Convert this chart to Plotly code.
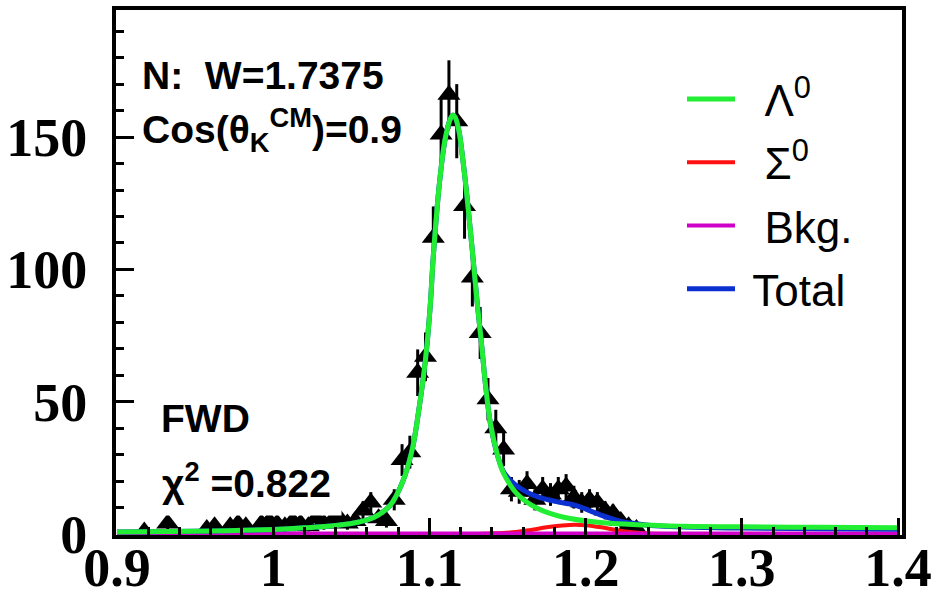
import plotly.graph_objects as go

# ---------------- data ----------------
bin_centers = [0.9175, 0.9325, 0.9575, 0.9625, 0.9725, 0.9775, 0.9825, 0.9925, 0.9975,
               1.0025, 1.0075, 1.0125, 1.0175, 1.0225, 1.0275, 1.0325, 1.0375, 1.0425,
               1.0475, 1.0525, 1.0575, 1.0625, 1.0675, 1.0725, 1.0775, 1.0825, 1.0875,
               1.0925, 1.0975, 1.1025, 1.1075, 1.1125, 1.1175, 1.1225, 1.1275, 1.1325,
               1.1375, 1.1425, 1.1475, 1.1525, 1.1575, 1.1625, 1.1675, 1.1725, 1.1775,
               1.1825, 1.1875, 1.1925, 1.1975, 1.2025, 1.2075, 1.2125, 1.2175, 1.2225,
               1.2275, 1.2325]
counts = [1, 4, 2, 3, 3, 4, 3, 4, 5,
          4, 3, 5, 4, 3, 6, 4, 5, 6,
          4, 5, 9, 12, 6, 5, 13, 28, 31,
          61, 67, 112, 151, 166, 156, 124, 97, 76,
          51, 40, 32, 17, 16, 19, 13, 17, 15,
          17, 18, 14, 12, 13, 12, 9, 8, 5,
          3, 2]
count_errors = [1.2, 2.3, 1.6, 2.0, 2.0, 2.3, 2.0, 2.3, 2.5,
                2.3, 2.0, 2.5, 2.3, 2.0, 2.8, 2.3, 2.5, 2.8,
                2.3, 2.5, 3.4, 3.9, 2.8, 2.5, 4.0, 6.0, 6.2,
                8.8, 9.2, 11.8, 13.8, 13.0, 14.0, 12.4, 11.0, 9.8,
                8.0, 7.0, 6.3, 4.6, 4.5, 4.8, 4.0, 4.6, 4.3,
                4.6, 4.7, 4.3, 3.9, 4.0, 3.9, 3.4, 3.2, 2.5,
                2.0, 1.6]

lambda_x = [0.90, 0.95, 1.00, 1.02, 1.04, 1.055, 1.065, 1.075, 1.083, 1.089, 1.093,
            1.0975, 1.1005, 1.1025, 1.1065, 1.110, 1.1135, 1.115, 1.1165, 1.119,
            1.1215, 1.1245, 1.1275, 1.1305, 1.133, 1.136, 1.139, 1.1435, 1.1475,
            1.1565, 1.169, 1.186, 1.208, 1.25, 1.30, 1.35, 1.40]
lambda_y = [0.8, 1.1, 1.8, 2.4, 3.3, 4.6, 6.5, 11, 20, 32, 46,
            66, 86, 105, 133, 149, 157, 158.3, 157.5, 152,
            141, 125, 107, 88, 74, 56, 42, 30, 23,
            15, 9.8, 6.4, 4.5, 3.2, 2.8, 2.6, 2.4]

sigma_x = [0.90, 1.00, 1.12, 1.14, 1.155, 1.165, 1.175, 1.185, 1.193, 1.20,
           1.21, 1.22, 1.23, 1.24, 1.26, 1.30, 1.40]
sigma_y = [0, 0, 0, 0.3, 0.8, 1.6, 2.6, 3.3, 3.6, 3.4,
           2.6, 1.5, 0.7, 0.25, 0.05, 0, 0]

bkg_x = [0.90, 1.00, 1.10, 1.20, 1.30, 1.40]
bkg_y = [0.3, 0.3, 0.3, 0.3, 0.3, 0.3]

total_x = [0.90, 0.95, 1.00, 1.02, 1.04, 1.055, 1.065, 1.075, 1.083, 1.089, 1.093,
           1.0975, 1.1005, 1.1025, 1.1065, 1.110, 1.1135, 1.115, 1.1165, 1.119,
           1.1215, 1.1245, 1.1275, 1.1305, 1.133, 1.136, 1.139, 1.1435, 1.1475,
           1.1525, 1.1565, 1.162, 1.169, 1.176, 1.182, 1.188, 1.193, 1.198, 1.203,
           1.209, 1.216, 1.222, 1.229, 1.24, 1.25, 1.30, 1.35, 1.40]
total_y = [0.8, 1.1, 1.8, 2.4, 3.3, 4.6, 6.5, 11, 20, 32, 46,
           66, 86, 105, 133, 149, 157, 158.3, 157.5, 152,
           141, 125, 107, 88, 74, 56, 42, 30, 23.5,
           20, 18, 16, 14.2, 13, 12.2, 11.6, 11, 10, 8.8,
           7.4, 6, 4.9, 4.2, 3.4, 3.0, 2.3, 2.1, 1.9]

x_tick_vals = [0.9, 1.0, 1.1, 1.2, 1.3, 1.4]
x_tick_text = ["0.9", "1", "1.1", "1.2", "1.3", "1.4"]
y_tick_vals = [0, 50, 100, 150]
y_tick_text = ["0", "50", "100", "150"]

legend_names = ["\u00a0\u00a0Λ<sup>0</sup>", "\u00a0\u00a0Σ<sup>0</sup>",
                "\u00a0\u00a0Bkg.", "\u00a0Total"]

# ---------------- figure ----------------
W, H = 937, 594
L, R, T, B = 116, 35, 10, 59


def px_x(px):
    return (px - L) / (W - L - R)


def px_y(py):
    return (H - B - py) / (H - T - B)


fig = go.Figure()

fig.add_trace(go.Scatter(
    x=bin_centers, y=counts, mode="markers",
    marker=dict(symbol="triangle-up", size=20, color="black"),
    error_y=dict(type="data", array=count_errors, visible=True,
                 thickness=3, width=0, color="black"),
    showlegend=False, cliponaxis=True))

fig.add_trace(go.Scatter(x=sigma_x, y=sigma_y, mode="lines", name=legend_names[1],
                         line=dict(color="#ff1010", width=4, shape="spline"),
                         legendgroup="g2", legendrank=2))
fig.add_trace(go.Scatter(x=bkg_x, y=bkg_y, mode="lines", name=legend_names[2],
                         line=dict(color="#d000c8", width=4),
                         legendgroup="g3", legendrank=3))
fig.add_trace(go.Scatter(x=total_x, y=total_y, mode="lines", name=legend_names[3],
                         line=dict(color="#0a30d0", width=5, shape="spline"),
                         legendgroup="g4", legendrank=4))
fig.add_trace(go.Scatter(x=lambda_x, y=lambda_y, mode="lines", name=legend_names[0],
                         line=dict(color="#22ee33", width=5, shape="spline"),
                         legendgroup="g1", legendrank=1))

tick_font = dict(family="Liberation Serif, Times New Roman, serif", size=54,
                 color="black", weight="bold")
ann_font = dict(family="Liberation Sans, Arial, sans-serif", size=39,
                color="black", weight="bold")

fig.update_layout(
    width=W, height=H,
    margin=dict(l=L, r=R, t=T, b=B, autoexpand=False),
    paper_bgcolor="white", plot_bgcolor="white",
    showlegend=True,
    legend=dict(x=px_x(682), y=px_y(64), xanchor="left", yanchor="top",
                bgcolor="rgba(0,0,0,0)", borderwidth=0,
                font=dict(family="Liberation Sans Narrow, Arial Narrow, Liberation Sans, Arial",
                          size=44, color="black"),
                traceorder="grouped", tracegroupgap=3, itemwidth=48),
    xaxis=dict(range=[0.8994, 1.4025], showgrid=False, zeroline=False, automargin=False,
               showline=True, linewidth=4, linecolor="black", mirror=True,
               ticks="inside", ticklen=17, tickwidth=3, tickcolor="black",
               tickmode="array", tickvals=x_tick_vals, ticktext=x_tick_text,
               tickfont=tick_font, ticklabelstandoff=-18,
               minor=dict(dtick=0.02, tick0=0.9, ticks="inside", ticklen=8,
                          tickwidth=3, tickcolor="black", showgrid=False)),
    yaxis=dict(range=[-0.3, 198.0], showgrid=False, zeroline=False, automargin=False,
               showline=True, linewidth=4, linecolor="black", mirror=True,
               ticks="inside", ticklen=18, tickwidth=3, tickcolor="black",
               tickmode="array", tickvals=y_tick_vals, ticktext=y_tick_text,
               tickfont=tick_font, ticklabelstandoff=14,
               minor=dict(dtick=10, tick0=0, ticks="inside", ticklen=8,
                          tickwidth=3, tickcolor="black", showgrid=False)),
)

annotations = [
    dict(text="N:\u00a0\u00a0W=1.7375", x=px_x(140), y=px_y(76)),
    dict(text="Cos(θ<sub>K</sub><sup>CM</sup>)=0.9", x=px_x(140), y=px_y(130)),
    dict(text="FWD", x=px_x(159), y=px_y(419), bgcolor="white"),
    dict(text="χ<sup>2</sup> =0.822", x=px_x(151), y=px_y(480), bgcolor="white", borderpad=10),
]
for a in annotations:
    fig.add_annotation(xref="paper", yref="paper", xanchor="left", yanchor="middle",
                       showarrow=False, font=ann_font, **a)

fig.write_html("out.html")
